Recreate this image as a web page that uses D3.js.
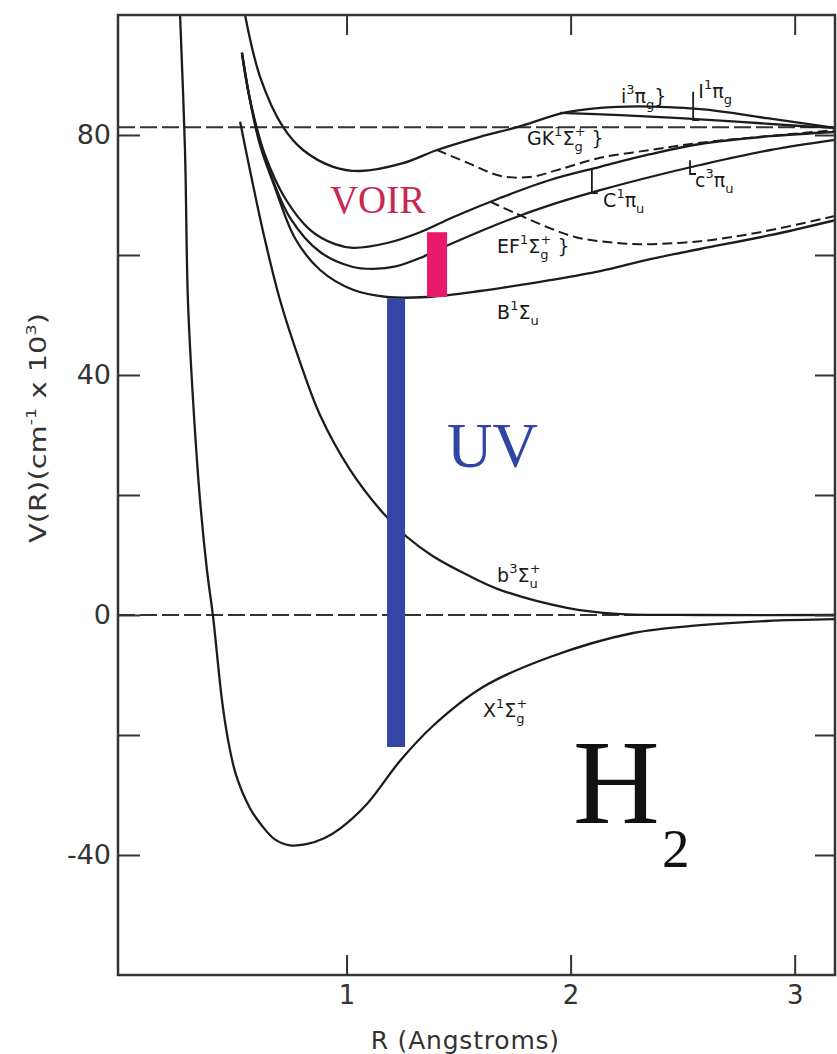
<!DOCTYPE html>
<html>
<head>
<meta charset="utf-8">
<script src="https://cdn.jsdelivr.net/npm/d3@7"></script>
<style>
  body { margin: 0; background: #fff; }
  text { font-family: "DejaVu Sans", sans-serif; fill: #2a2a2a; }
</style>
</head>
<body>
<svg id="canvas"></svg>
<script>
// potential curves, [R (Angstrom), V (10^3 cm-1)]
const stateX = [[0.257,100],[0.279,77.5],[0.292,52.5],[0.315,35.8],[0.346,19.2],[0.377,7.5],[0.404,-0.2],[0.444,-14.2],[0.471,-20.8],[0.507,-26.7],[0.569,-32.2],[0.62,-35],[0.68,-37.4],[0.748,-38.4],[0.82,-38.2],[0.9,-37.2],[0.971,-35.6],[1.091,-31.5],[1.239,-24.3],[1.385,-18.5],[1.609,-12],[1.908,-7],[2.279,-3],[2.578,-1.7],[2.877,-1],[3.18,-0.7]];
const stateb = [[0.525,82.2],[0.578,72.5],[0.636,62.5],[0.703,52.5],[0.792,42.2],[0.882,33.3],[1.016,24.2],[1.163,17],[1.27,13],[1.386,9.8],[1.538,6.7],[1.685,4.2],[1.984,1.2],[2.208,0.2],[2.578,0],[3.18,0]];
const stateB = [[0.533,93.7],[0.569,85.8],[0.614,78.3],[0.676,71.7],[0.77,62.8],[0.882,57.5],[1.029,54.2],[1.181,53],[1.359,53],[1.596,54],[1.908,55.8],[2.132,57.3],[2.355,59.3],[2.578,61],[2.891,63.3],[3.18,65.8]];
const statec = [[0.533,93.7],[0.565,86.7],[0.605,80],[0.658,73.8],[0.748,66.2],[0.882,60.5],[1.029,58],[1.12,57.7],[1.22,58.1],[1.328,59.5],[1.475,62],[1.685,65.3],[1.908,68.3],[2.132,70.8],[2.355,73],[2.578,75],[2.891,77.5],[3.18,79.2]];
const stateC = [[0.533,93.7],[0.56,87.5],[0.596,81.7],[0.636,76.7],[0.725,69.5],[0.837,64.2],[0.949,61.8],[1.029,61.2],[1.181,62],[1.328,63.8],[1.475,66.3],[1.685,69.5],[1.908,72.5],[2.132,74.7],[2.355,76.8],[2.578,78.5],[2.891,79.8],[3.18,80.5]];
const stateGK = [[0.547,100],[0.614,89.7],[0.717,81.3],[0.806,77.5],[0.94,74.7],[1.06,74],[1.252,75.3],[1.404,77.5],[1.596,79.7],[1.761,81.3],[1.984,83.8],[2.208,84.7],[2.578,84.3],[2.877,82.8],[3.18,81.2]];
const statei = [[1.953,83.7],[2.221,83.3],[2.489,82.8],[2.757,82.2],[3.025,81.5],[3.18,81.2]];
const stateGKdash = [[1.404,77.5],[1.551,75.2],[1.685,73.2],[1.819,73],[1.953,74.3],[2.132,76.2],[2.355,77.5],[2.578,78.7],[3.025,80.3],[3.18,80.8]];
const stateEFdash = [[1.64,68.9],[1.752,67],[1.886,64.8],[2.02,63],[2.154,62.2],[2.31,61.8],[2.578,62.3],[2.846,63.8],[3.18,66.5]];

const solidCurves = [stateX, stateb, stateB, statec, stateC, stateGK, statei];
const dashedCurves = [stateGKdash, stateEFdash];
const limits = [0, 81.3];

// transitions
const uvBar = { r: 1.221, top: 52.8, bottom: -22 };
const voirBar = { r: 1.404, top: 63.8, bottom: 53 };

// axes
const yTicks = [80, 60, 40, 20, 0, -20, -40];
const yTickLabels = [80, 40, 0, -40];
const xTicks = [1, 2, 3];

// state labels: position + [text, kind, dx]
const stateLabels = [
  { r: 2.225, v: 85.3, parts: [["i","n"],["3","sup"],["π","n"],["g","sub"],["}","n"]] },
  { r: 2.57, v: 86.2, parts: [["I","n"],["1","sup"],["π","n"],["g","sub"]] },
  { r: 1.805, v: 78.4, parts: [["GK","n"],["1","sup"],["Σ","n"],["g","sub"],["+","sup",-8],[" }","n"]] },
  { r: 2.145, v: 68, parts: [["C","n"],["1","sup"],["π","n"],["u","sub"]] },
  { r: 2.555, v: 71.3, parts: [["c","n"],["3","sup"],["π","n"],["u","sub"]] },
  { r: 1.672, v: 60.3, parts: [["EF","n"],["1","sup"],["Σ","n"],["g","sub"],["+","sup",-8],[" }","n"]] },
  { r: 1.672, v: 49.3, parts: [["B","n"],["1","sup"],["Σ","n"],["u","sub"]] },
  { r: 1.672, v: 5.5, parts: [["b","n"],["3","sup"],["Σ","n"],["u","sub"],["+","sup",-8]] },
  { r: 1.609, v: -17, parts: [["X","n"],["1","sup"],["Σ","n"],["g","sub"],["+","sup",-8]] }
];
const labelTicks = [
  { r: 2.095, v1: 74.4, v2: 70.3 },
  { r: 2.533, v1: 75.8, v2: 73.5 },
  { r: 2.547, v1: 87.2, v2: 82.5 }
];

const margins = { top: 15, right: 2, bottom: 79, left: 118 };
const width = 837 - margins.left - margins.right;
const height = 1054 - margins.top - margins.bottom;

const root = d3.select("#canvas")
  .attr("width", 837)
  .attr("height", 1054);

const svg = root.append("g")
  .attr("transform", "translate(" + margins.left + "," + margins.top + ")");

const x = d3.scaleLinear().domain([-0.02, 3.18]).range([0, width]);
const y = d3.scaleLinear().domain([-60, 100]).range([height, 0]);

svg.append("clipPath").attr("id", "plot")
  .append("rect").attr("width", width).attr("height", height);

const line = d3.line()
  .x(d => x(d[0]))
  .y(d => y(d[1]))
  .curve(d3.curveCatmullRom.alpha(0.5));

const plot = svg.append("g").attr("clip-path", "url(#plot)");

// dissociation limits
plot.selectAll(".limit")
  .data(limits)
  .enter()
  .append("line")
  .attr("x1", 0).attr("x2", width)
  .attr("y1", d => y(d)).attr("y2", d => y(d))
  .style("stroke", "#333")
  .style("stroke-width", 2)
  .style("stroke-dasharray", "17,5");

plot.selectAll(".solid")
  .data(solidCurves)
  .enter()
  .append("path")
  .attr("d", line)
  .style("fill", "none")
  .style("stroke", "#1c1c1c")
  .style("stroke-width", 2.3);

plot.selectAll(".dashed")
  .data(dashedCurves)
  .enter()
  .append("path")
  .attr("d", line)
  .style("fill", "none")
  .style("stroke", "#1c1c1c")
  .style("stroke-width", 2)
  .style("stroke-dasharray", "10,5");

// label ticks
plot.selectAll(".ltick")
  .data(labelTicks)
  .enter()
  .append("path")
  .attr("d", d => "M" + x(d.r) + "," + y(d.v1) + "V" + y(d.v2) + "h6")
  .style("fill", "none")
  .style("stroke", "#1c1c1c")
  .style("stroke-width", 1.8);

// bars
plot.append("rect")
  .attr("x", x(uvBar.r) - 9)
  .attr("width", 18)
  .attr("y", y(uvBar.top))
  .attr("height", y(uvBar.bottom) - y(uvBar.top))
  .style("fill", "#3346a6");

plot.append("rect")
  .attr("x", x(voirBar.r) - 10)
  .attr("width", 20)
  .attr("y", y(voirBar.top))
  .attr("height", y(voirBar.bottom) - y(voirBar.top))
  .style("fill", "#e8196a");

// frame
svg.append("rect")
  .attr("width", width).attr("height", height)
  .style("fill", "none")
  .style("stroke", "#333")
  .style("stroke-width", 2.5);

const tickStyle = g => {
  g.select(".domain").remove();
  g.selectAll("line").style("stroke", "#333").style("stroke-width", 2);
};

svg.append("g").call(d3.axisRight(y).tickValues(yTicks).tickSize(22).tickFormat("")).call(tickStyle);
svg.append("g").attr("transform", "translate(" + width + ",0)")
  .call(d3.axisLeft(y).tickValues(yTicks).tickSize(20).tickFormat("")).call(tickStyle);
svg.append("g").attr("transform", "translate(0," + height + ")")
  .call(d3.axisTop(x).tickValues(xTicks).tickSize(20).tickFormat("")).call(tickStyle);
svg.append("g")
  .call(d3.axisBottom(x).tickValues(xTicks).tickSize(20).tickFormat("")).call(tickStyle);

// tick labels
svg.append("g")
  .call(d3.axisLeft(y).tickValues(yTickLabels).tickSize(0).tickPadding(7).tickFormat(d => String(d)))
  .call(g => g.select(".domain").remove())
  .selectAll("text")
  .style("font-family", "DejaVu Sans, sans-serif")
  .style("font-size", "27px")
  .style("fill", "#333");

svg.append("g").attr("transform", "translate(0," + height + ")")
  .call(d3.axisBottom(x).tickValues(xTicks).tickSize(0).tickPadding(11).tickFormat(d => String(d)))
  .call(g => g.select(".domain").remove())
  .selectAll("text")
  .style("font-family", "DejaVu Sans, sans-serif")
  .style("font-size", "26px")
  .style("fill", "#333");

// axis titles
root.append("text")
  .attr("x", margins.left + x(1.53))
  .attr("y", 1049)
  .attr("text-anchor", "middle")
  .style("font-size", "25px")
  .style("letter-spacing", "0.8px")
  .style("fill", "#333")
  .text("R (Angstroms)");

const yTitle = root.append("text")
  .attr("transform", "translate(46,428) rotate(-90)")
  .attr("text-anchor", "middle")
  .attr("textLength", 230)
  .attr("lengthAdjust", "spacingAndGlyphs")
  .style("font-size", "23px")
  .style("fill", "#333");
yTitle.append("tspan").text("V(R)(cm");
yTitle.append("tspan").attr("dy", -10).style("font-size", "14px").text("-1");
yTitle.append("tspan").attr("dy", 10).text(" x 10");
yTitle.append("tspan").attr("dy", -10).style("font-size", "14px").text("3");
yTitle.append("tspan").attr("dy", 10).text(")");

// state labels
stateLabels.forEach(lab => {
  const t = svg.append("text")
    .attr("x", x(lab.r))
    .attr("y", y(lab.v))
    .style("font-size", "19px")
    .style("fill", "#1a1a1a");
  let shift = 0;
  lab.parts.forEach(([s, kind, dx]) => {
    const target = kind === "sup" ? -9 : kind === "sub" ? 6 : 0;
    const span = t.append("tspan")
      .attr("dy", target - shift)
      .style("font-size", kind === "n" ? "19px" : "13px")
      .text(s);
    if (dx) span.attr("dx", dx);
    shift = target;
  });
});

// annotations
const serif = "'Liberation Serif', 'Times New Roman', serif";
svg.append("text")
  .attr("x", x(0.926)).attr("y", y(67))
  .style("font-family", serif).style("font-size", "39px")
  .style("fill", "#c8284f")
  .text("VOIR");

svg.append("text")
  .attr("x", x(1.448)).attr("y", y(24.7))
  .style("font-family", serif).style("font-size", "63px")
  .style("fill", "#2f45a5")
  .text("UV");

svg.append("text")
  .attr("x", x(2.011)).attr("y", y(-34.7))
  .style("font-family", serif).style("font-size", "120px")
  .style("fill", "#111")
  .text("H");

svg.append("text")
  .attr("x", x(2.408)).attr("y", y(-42))
  .style("font-family", serif).style("font-size", "55px")
  .style("fill", "#111")
  .text("2");
</script>
</body>
</html>
